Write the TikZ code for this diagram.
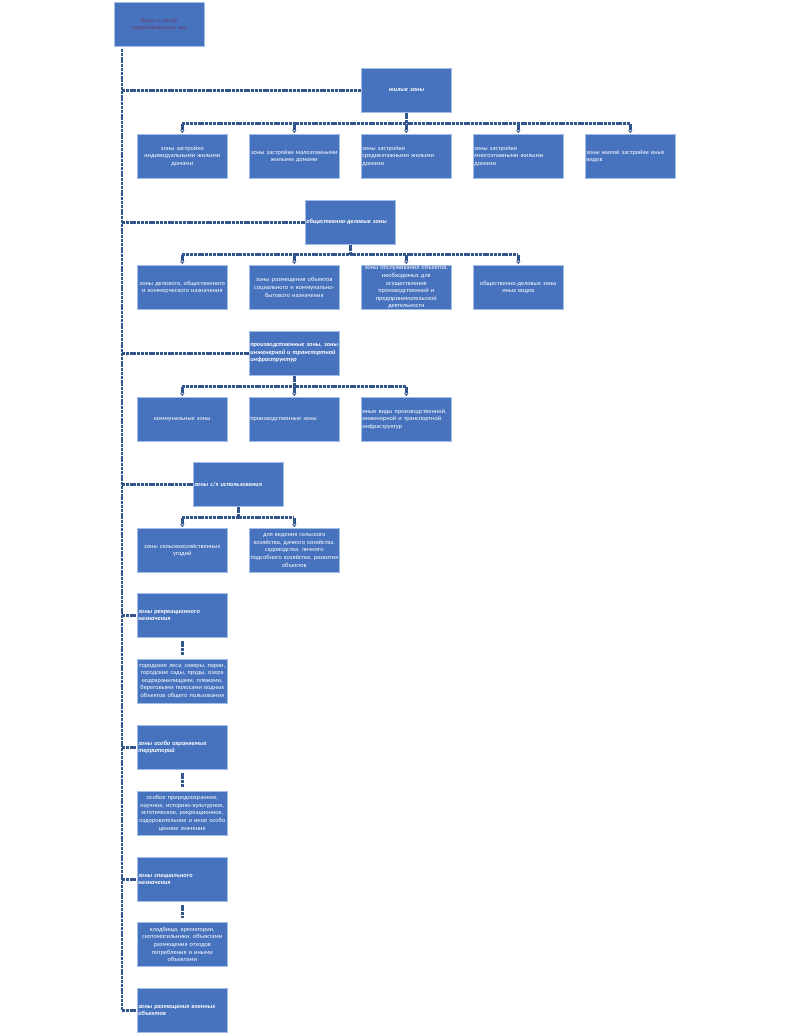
\documentclass[tikz,border=0pt]{standalone}
\usepackage{fontspec}
\setmainfont{Carlito}
\usetikzlibrary{arrows.meta}
\definecolor{boxfill}{RGB}{70,114,190}
\definecolor{boxline}{RGB}{160,190,230}
\definecolor{conncol}{RGB}{50,86,140}
\definecolor{toptext}{RGB}{112,58,98}
\tikzset{
  zbox/.style={draw=boxline, line width=0.6pt, fill=boxfill, minimum width=90pt, minimum height=44pt, inner sep=0pt, anchor=north west},
  ztext/.style={text=white, text width=88pt, inner sep=0pt, align=center, font=\fontsize{6.3}{7.6}\selectfont},
  ltext/.style={ztext, align=left},
  ptext/.style={ztext, align=left, font=\fontsize{6.3}{7.6}\selectfont\itshape\bfseries},
  conn/.style={draw=conncol, line width=2.4pt, dash pattern=on 3pt off 0.8pt},
  drop/.style={conn, -{Stealth[length=3pt,width=4.5pt]}, shorten >=1pt},
}
\newcommand\zb[4]{\node[zbox] (#1) at (#2) {}; \node[#3] (#1t) at (#1.center) {#4};}
\begin{document}
\begin{tikzpicture}[x=1pt,y=-1pt]
\useasboundingbox (0,0) rectangle (790,1034);
% top
\zb{top}{114,2}{ztext, text=toptext, font=\fontsize{5.8}{7}\selectfont}{Виды и состав\\территориальных зон}
% жилые
\zb{jz}{361,68}{ptext, align=center}{жилые зоны}
\zb{j1}{137,134}{ztext}{зоны застройки\\индивидуальными жилыми\\домами}
\zb{j2}{249,134}{ztext}{зоны застройки малоэтажными\\жилыми домами}
\zb{j3}{361,134}{ltext}{зоны застройки\\среднеэтажными жилыми\\домами}
\zb{j4}{473,134}{ltext}{зоны застройки\\многоэтажными жилыми\\домами}
\zb{j5}{585,134}{ltext}{зоны жилой застройки иных\\видов}
% общественно-деловые
\zb{od}{305,200}{ptext}{общественно-деловые зоны}
\zb{o1}{137,265}{ztext}{зоны делового, общественного\\и коммерческого назначения}
\zb{o2}{249,265}{ztext}{зоны размещения объектов\\социального и коммунально-\\бытового назначения}
\zb{o3}{361,265}{ztext}{зоны обслуживания объектов,\\необходимых для\\осуществления\\производственной и\\предпринимательской\\деятельности}
\zb{o4}{473,265}{ztext}{общественно-деловые зоны\\иных видов}
% производственные
\zb{pr}{249,331}{ptext}{производственные зоны, зоны\\инженерной и транспортной\\инфраструктур}
\zb{p1}{137,397}{ztext}{коммунальные зоны}
\zb{p2}{249,397}{ltext}{производственные зоны}
\zb{p3}{361,397}{ltext}{иные виды производственной,\\инженерной и транспортной\\инфраструктур}
% с/х
\zb{sh}{193,462}{ptext}{зоны с/х использования}
\zb{s1}{137,528}{ztext}{зоны сельскохозяйственных\\угодий}
\zb{s2}{249,528}{ztext}{для ведения сельского\\хозяйства, дачного хозяйства,\\садоводства, личного\\подсобного хозяйства, развития\\объектов}
% рекреационные
\zb{rk}{137,593}{ptext}{зоны рекреационного\\назначения}
\zb{rkc}{137,659}{ztext}{городские леса, скверы, парки,\\городские сады, пруды, озера\\водохранилищами, пляжами,\\береговыми полосами водных\\объектов общего пользования}
% особо охраняемые
\zb{oo}{137,725}{ptext}{зоны особо охраняемых\\территорий}
\zb{ooc}{137,791}{ztext}{особое природоохранное,\\научное, историко-культурное,\\эстетическое, рекреационное,\\оздоровительное и иное особо\\ценное значение}
% специального назначения
\zb{sp}{137,857}{ptext}{зоны специального\\назначения}
\zb{spc}{137,922}{ztext}{кладбища, крематории,\\скотомогильники, объектами\\размещения отходов\\потребления и иными\\объектами}
% военные
\zb{vo}{137,988}{ptext}{зоны размещения военных\\объектов}
% main spine
\coordinate (m0) at (122,49);
\draw[conn] (m0) |- (vo.west);
\foreach \n in {jz,od,pr,sh,rk,oo,sp} \draw[conn] (m0 |- \n.west) -- (\n.west);
% brackets
\draw[conn] (jz.south) -- ++(0,11) coordinate (jzb);
\draw[conn] (jzb -| j1.north) -- (jzb -| j5.north);
\foreach \c in {j1,j2,j3,j4,j5} \draw[drop] (jzb -| \c.north) -- (\c.north);
\draw[conn] (od.south) -- ++(0,10) coordinate (odb);
\draw[conn] (odb -| o1.north) -- (odb -| o4.north);
\foreach \c in {o1,o2,o3,o4} \draw[drop] (odb -| \c.north) -- (\c.north);
\draw[conn] (pr.south) -- ++(0,11) coordinate (prb);
\draw[conn] (prb -| p1.north) -- (prb -| p3.north);
\foreach \c in {p1,p2,p3} \draw[drop] (prb -| \c.north) -- (\c.north);
\draw[conn] (sh.south) -- ++(0,11) coordinate (shb);
\draw[conn] (shb -| s1.north) -- (shb -| s2.north);
\foreach \c in {s1,s2} \draw[drop] (shb -| \c.north) -- (\c.north);
\draw[conn] (rk.south) ++(0,3) -- ([yshift=4pt]rkc.north);
\draw[conn] (oo.south) ++(0,3) -- ([yshift=4pt]ooc.north);
\draw[conn] (sp.south) ++(0,3) -- ([yshift=4pt]spc.north);
\end{tikzpicture}
\end{document}
